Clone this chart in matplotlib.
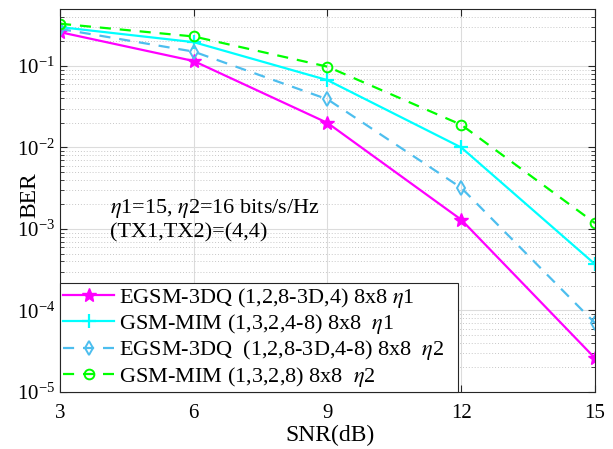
import matplotlib
matplotlib.use("Agg")
import matplotlib.pyplot as plt
from matplotlib.ticker import LogLocator, NullFormatter, FixedLocator

plt.rcParams['font.family'] = ['Liberation Serif', 'DejaVu Serif']
plt.rcParams['mathtext.fontset'] = 'stix'

snr = [3, 6, 9, 12, 15]
egsm_eta1 = [0.26, 0.115, 0.020, 0.0013, 2.6e-5]
gsm_eta1 = [0.30, 0.196, 0.067, 0.010, 3.7e-4]
egsm_eta2 = [0.285, 0.15, 0.039, 0.0032, 7.0e-5]
gsm_eta2 = [0.33, 0.23, 0.098, 0.019, 0.00118]

labels = [
    r'EGSM-3DQ (1,2,8-3D,4) 8x8 $\eta$1',
    r'GSM-MIM (1,3,2,4-8) 8x8  $\eta$1',
    r'EGSM-3DQ  (1,2,8-3D,4-8) 8x8  $\eta$2',
    r'GSM-MIM (1,3,2,8) 8x8  $\eta$2',
]
xticks = [3, 6, 9, 12, 15]

fig = plt.figure(figsize=(6.13, 4.49), dpi=100)
ax = fig.add_axes([60/613, 1 - 392/449, (595-60)/613, (392-9)/449])

ax.semilogy(snr, egsm_eta1, '-', color='#FF00FF', marker='*', markersize=10, lw=1.6, label=labels[0])
ax.semilogy(snr, gsm_eta1, '-', color='#00FFFF', marker='+', markersize=10, mew=1.6, lw=1.6, label=labels[1])
ax.semilogy(snr, egsm_eta2, '--', color='#4DBEEE', marker='d', markersize=7, mfc='none', mew=1.4, lw=1.6, dashes=(5, 4), label=labels[2])
ax.semilogy(snr, gsm_eta2, '--', color='#00FF00', marker='o', markersize=7, mfc='none', mew=1.4, lw=1.6, dashes=(5, 4), label=labels[3])

ax.set_xlim(3, 15)
ax.set_ylim(1e-5, 0.5)
ax.xaxis.set_major_locator(FixedLocator(xticks))
ax.set_xticklabels([str(v) for v in xticks])
ax.yaxis.set_major_locator(LogLocator(base=10, numticks=10))
ax.yaxis.set_minor_locator(LogLocator(base=10, subs=range(2, 10), numticks=20))
ax.yaxis.set_minor_formatter(NullFormatter())

ax.grid(True, which='major', color='#DCDCDC', lw=0.8, ls='-')
ax.grid(True, which='minor', axis='y', color='#C8C8C8', lw=0.7, ls=(0, (1, 2)))
ax.set_axisbelow(True)

ax.tick_params(which='both', direction='in', top=True, right=True, labelsize=15, color='#262626')
ax.tick_params(which='major', length=5)
ax.tick_params(axis='x', which='major', pad=9)
ax.tick_params(which='minor', length=3)
for s in ax.spines.values():
    s.set_color('#262626')
    s.set_linewidth(0.8)

ax.set_xlabel('SNR(dB)', fontsize=17, labelpad=0)
ax.xaxis.set_label_coords((330-60)/535, -(435-392)/383)
ax.xaxis.label.set_va('center')
ax.set_ylabel('BER', fontsize=17)
ax.yaxis.set_label_coords((30-60)/535, (392-195)/383)
ax.yaxis.label.set_va('center')

ax.text(0.094, (392-208)/383, r'$\eta$1=15, $\eta$2=16 bits/s/Hz', transform=ax.transAxes, fontsize=16, va='center')
ax.text(0.094, (392-233)/383, '(TX1,TX2)=(4,4)', transform=ax.transAxes, fontsize=16, va='center')

leg = ax.legend(loc='lower left', fontsize=16, frameon=True, fancybox=False,
                bbox_to_anchor=(0, 0, (458-60)/535, 0.3), mode='expand',
                edgecolor='#262626', framealpha=1, borderpad=0.15, labelspacing=0.1,
                handlelength=2.3, handletextpad=0.2, borderaxespad=0)
leg.get_frame().set_linewidth(0.8)

fig.savefig('out.png', dpi=100)
